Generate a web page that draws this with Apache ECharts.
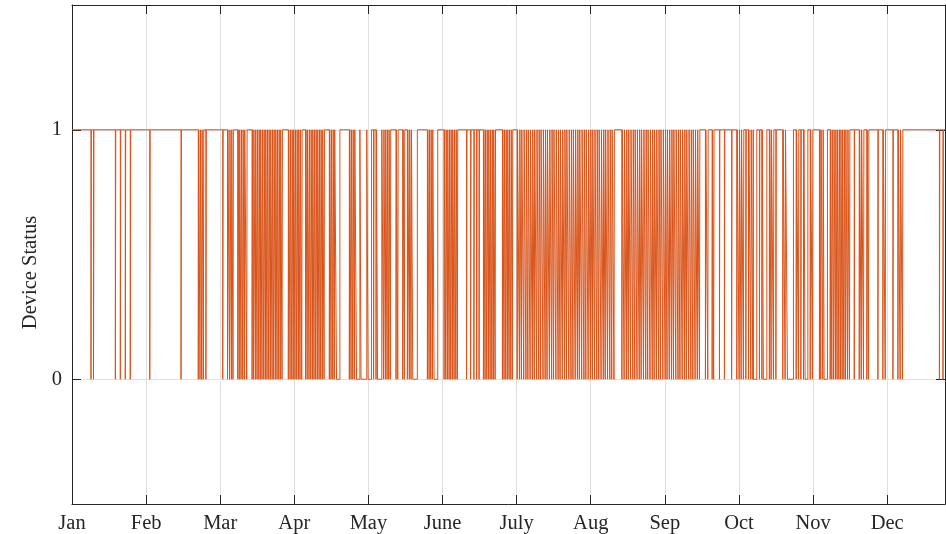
<!DOCTYPE html>
<html>
<head>
<meta charset="utf-8">
<title>Device Status</title>
<script src="https://cdn.jsdelivr.net/npm/echarts@6/dist/echarts.min.js"></script>
<style>
  html, body { margin: 0; padding: 0; background: #ffffff; }
  #chart { width: 946px; height: 534px; }
</style>
</head>
<body>
<div id="chart"></div>
<script>
// Time axis in hours from 1 January; one month tick every 730 h.
const monthLabels = ['Jan', 'Feb', 'Mar', 'Apr', 'May', 'June', 'July', 'Aug', 'Sep', 'Oct', 'Nov', 'Dec'];
const monthTicks = [0, 730, 1460, 2190, 2920, 3650, 4380, 5110, 5840, 6570, 7300, 8030];
const hoursShown = 8600;
const statusTicks = [0, 1];

// Short outages: hour at which the device dropped to 0 (each lasts blipHours).
const blipHours = 4;
const blipStarts = [
  187, 212, 427, 476, 525, 574, 766, 1074,
  1244, 1261, 1278, 1294, 1319,
  1485, 1532, 1552, 1570, 1586, 1633, 1648, 1665, 1682, 1698, 1721,
  1774, 1788, 1806, 1823, 1840, 1855, 1872, 1889, 1905, 1921, 1938, 1954, 1971, 1987, 2004, 2020, 2037, 2052, 2069,
  2131, 2148, 2165, 2180, 2197, 2214, 2230, 2246, 2263,
  2301, 2317, 2335, 2352, 2368, 2384, 2401, 2417, 2434, 2450, 2466, 2483,
  2535, 2552, 2569, 2584,
  2732, 2749, 2766, 2782,
  2971, 2995,
  3069, 3087, 3104, 3120, 3136, 3192, 3209, 3258, 3274, 3304, 3323, 3340,
  3501, 3518, 3534, 3550,
  3665, 3682, 3698, 3715, 3731, 3747, 3764, 3781, 3796,
  3887, 3927, 3959, 3986, 4010,
  4053, 4069, 4086, 4102, 4119, 4136, 4151, 4168,
  4240, 4256, 4273, 4289, 4306, 4323, 4338,
  4385, 4408, 4427, 4450, 4472, 4491, 4513, 4535, 4554, 4577, 4598, 4617, 4640, 4661, 4680, 4703,
  4725, 4744, 4767, 4789, 4808, 4830, 4852, 4871, 4894, 4916, 4935, 4957, 4979, 4998, 5021, 5043,
  5062, 5085, 5107, 5126, 5148, 5170, 5189, 5212, 5234, 5253, 5276, 5298, 5317, 5339,
  5417, 5439, 5461, 5480, 5503, 5525, 5544, 5566, 5588, 5607, 5630, 5652, 5671, 5694, 5716, 5735,
  5757, 5779, 5798, 5821, 5843, 5862, 5884, 5906, 5925, 5948, 5970, 5989, 6011, 6033, 6052, 6075,
  6097, 6116, 6138, 6160, 6181,
  6240, 6263, 6306, 6321, 6378, 6427, 6498,
  6549, 6572, 6592, 6614, 6638, 6664, 6687, 6707,
  6772, 6796, 6870, 6887, 6910, 6934,
  7002, 7025, 7134, 7156, 7180, 7206, 7272, 7294,
  7363, 7376, 7396,
  7469, 7485, 7503, 7521, 7537, 7555, 7571, 7587, 7604, 7620, 7640, 7659,
  7706, 7755, 7775, 7797, 7830, 7846, 7939, 7988, 8011, 8087, 8136, 8158, 8181,
  8545, 8580
];

// Longer outages: [off from hour, back on at hour].
const longOffStart = [2606, 2803, 2847, 2917, 3010, 3357, 3567, 6713, 6811, 7048, 7222, 7409];
const longOffEnd   = [2639, 2836, 2904, 2951, 3052, 3402, 3603, 6746, 6845, 7107, 7249, 7442];

// Turn the outage lists into a 0/1 step trace.
const outages = blipStarts.map(s => [s, s + blipHours])
  .concat(longOffStart.map((s, i) => [s, longOffEnd[i]]))
  .sort((a, b) => a[0] - b[0]);
const trace = [[0, 1]];
outages.forEach(([off, on]) => { trace.push([off, 0]); trace.push([on, 1]); });
trace.push([hoursShown, 1]);

const ink = '#262626';
const font = '"Liberation Serif", "Times New Roman", serif';
const gridColor = '#e0e0e0';
const fontSize = 20.5;

const chart = echarts.init(document.getElementById('chart'), null, { renderer: 'canvas' });

const xBase = {
  type: 'value', min: 0, max: hoursShown, interval: 730,
  axisLine: { show: true, onZero: false, lineStyle: { color: ink, width: 1 } },
  axisTick: { show: true, inside: true, length: 9, customValues: monthTicks, lineStyle: { color: ink, width: 1 } },
};
const yBase = {
  type: 'value', min: -0.5, max: 1.5, interval: 0.5,
  axisLine: { show: true, onZero: false, lineStyle: { color: ink, width: 1 } },
  axisTick: { show: true, inside: true, length: 9, customValues: statusTicks, lineStyle: { color: ink, width: 1 } },
};

chart.setOption({
  animation: false,
  backgroundColor: '#ffffff',
  grid: { left: 72, right: 1, top: 5, bottom: 29, containLabel: false },
  xAxis: [
    Object.assign({}, xBase, {
      position: 'bottom',
      splitLine: { show: true, lineStyle: { color: gridColor, width: 1 } },
      axisLabel: {
        show: true, customValues: monthTicks, margin: 9,
        color: ink, fontFamily: font, fontSize: fontSize,
        formatter: v => monthLabels[Math.round(v / 730)] || ''
      }
    }),
    Object.assign({}, xBase, {
      position: 'top',
      splitLine: { show: false },
      axisLabel: { show: false }
    })
  ],
  yAxis: [
    Object.assign({}, yBase, {
      position: 'left',
      name: 'Device Status',
      nameLocation: 'middle',
      nameGap: 31,
      nameTextStyle: { color: ink, fontFamily: font, fontSize: fontSize, padding: [0, 36, 0, 0] },
      splitLine: { show: true, lineStyle: { color: gridColor, width: 1 } },
      axisLabel: {
        show: true, customValues: statusTicks, margin: 10,
        color: ink, fontFamily: font, fontSize: fontSize,
        padding: [0, 0, 10, 0],
        formatter: v => String(v)
      }
    }),
    Object.assign({}, yBase, {
      position: 'right',
      splitLine: { show: false },
      axisLabel: { show: false }
    })
  ],
  series: [{
    name: 'Device Status',
    type: 'line',
    xAxisIndex: 0,
    yAxisIndex: 0,
    data: trace,
    step: 'end',
    showSymbol: false,
    symbol: 'none',
    sampling: null,
    clip: true,
    lineStyle: { color: '#D95319', width: 1 },
    z: 3
  }]
});
</script>
</body>
</html>
